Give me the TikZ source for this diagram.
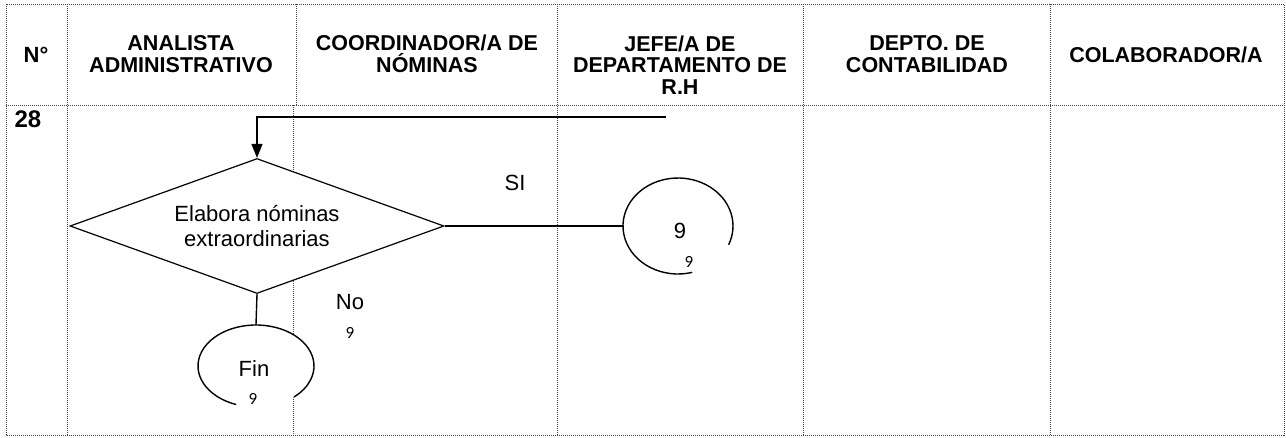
\documentclass[tikz,border=0pt]{standalone}
\usepackage{fontspec}
\setmainfont{Liberation Sans}
\newfontfamily\nineface{Carlito}
\usetikzlibrary{shapes.geometric,arrows.meta}

\begin{document}
\begin{tikzpicture}[x=1pt,y=-1pt,
		grid/.style={line width=.8pt,black!75,dash pattern=on 1pt off 1pt},
		flow/.style={line width=1.4pt},
		head/.style={font=\bfseries\fontsize{21.5}{21.5}\selectfont,align=center},
		txt/.style={font=\fontsize{22}{25}\selectfont,align=center},
		tiny/.style={font=\nineface\fontsize{17}{17}\selectfont},
		conn/.style={ellipse,inner sep=0pt,fill=white}]
		\useasboundingbox (0,0) rectangle (1286,437);

		% table
		\draw[grid] (6,4) rectangle (1284,435);
		\draw[grid] (6,105) -- (1284,105);
		\draw[grid] (67,4) -- (67,435);
		\draw[grid] (296,4) -- (296,105);
		\draw[grid] (293,105) -- (293,435);
		\draw[grid] (557,4) -- (557,435);
		\draw[grid] (803,4) -- (803,435);
		\draw[grid] (1050,4) -- (1050,435);

		\node[head,font=\bfseries\fontsize{22}{22}\selectfont] (hnum) at (36,55) {N°};
		\node[head] (hana) at (181,54) {ANALISTA\\ADMINISTRATIVO};
		\node[head] (hcoo) at (427,54) {COORDINADOR/A DE\\NÓMINAS};
		\node[head] (hjef) at (680,65) {JEFE/A DE\\DEPARTAMENTO DE\\R.H};
		\node[head] (hcon) at (927,54) {DEPTO. DE\\CONTABILIDAD};
		\node[head] (hcol) at (1166,55) {COLABORADOR/A};

		\node[head,font=\bfseries\fontsize{24}{24}\selectfont] (step28) at (28,119) {28};

		% flow
		\node[diamond,draw,fill=white,line width=1.2pt,aspect=2.77,minimum width=374,minimum height=135,inner sep=0pt,txt] (dec) at (257,226) {Elabora nóminas\\extraordinarias};
		\node[conn,minimum width=110,minimum height=96] (c9) at (678,226) {};
		\node[conn,minimum width=116,minimum height=82] (fin) at (256,366) {};

		\coordinate (back) at (666,117);
		\draw[flow,-{Triangle[length=14pt,width=11pt]}] (back) -| (dec.north);
		\draw[flow] (dec.east) -- (c9.west);
		\draw[flow] (dec.south) -- (fin.north);

		\draw[flow] ([shift={(75:55 and 48)}]c9.center) arc[start angle=75,end angle=383,x radius=55,y radius=48];
		\draw[flow] ([shift={(110:58 and 41)}]fin.center) arc[start angle=110,end angle=409,x radius=58,y radius=41];

		\node[txt] (n9) at (680,231) {9};
		\node[tiny] (n9s) at (689,262) {9};
		\node[txt] (nfin) at (254,369) {Fin};
		\node[tiny] (nfins) at (253,399) {9};
		\node[txt] (lsi) at (515,183) {SI};
		\node[txt] (lno) at (350,302) {No};
		\node[tiny] (lnos) at (350,333) {9};
\end{tikzpicture}
\end{document}
